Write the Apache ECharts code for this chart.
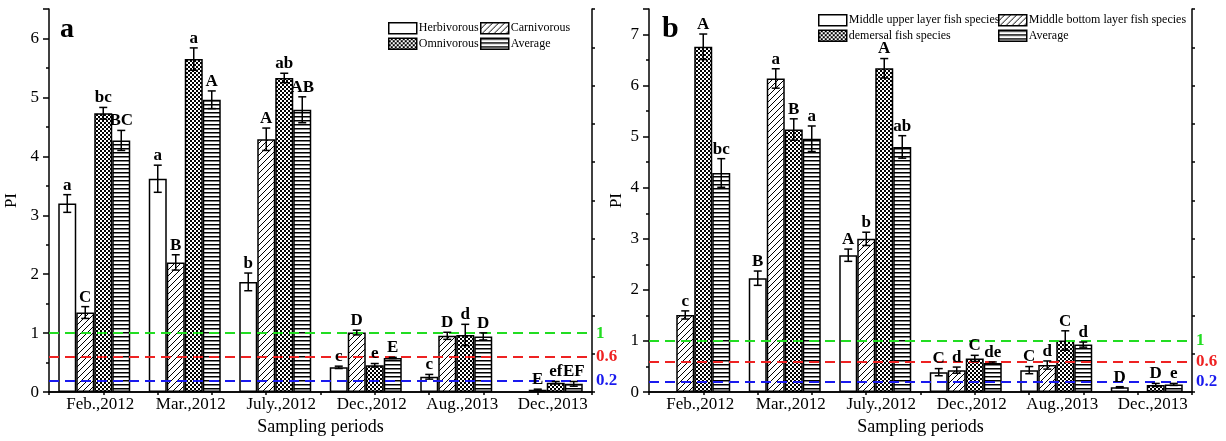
<!DOCTYPE html>
<html>
<head>
<meta charset="utf-8">
<script src="https://cdn.jsdelivr.net/npm/echarts@6/dist/echarts.min.js"></script>
<style>
html, body { margin: 0; padding: 0; background: #fff; }
#chart { width: 1226px; height: 441px; }
</style>
</head>
<body>
<div id="chart"></div>
<script>
// categorias (períodos de amostragem)
var categories = ['Feb.,2012', 'Mar.,2012', 'July.,2012', 'Dec.,2012', 'Aug.,2013', 'Dec.,2013'];

// painel a
var herbVals = [3.2, 3.62, 1.87, 0.42, 0.26, null];
var herbErr = [0.15, 0.23, 0.15, 0.02, 0.04, null];
var herbLab = ['a', 'a', 'b', 'c', 'c', ''];
var carnVals = [1.35, 2.2, 4.29, 1.01, 0.955, 0.04];
var carnErr = [0.1, 0.13, 0.19, 0.04, 0.06, 0.01];
var carnLab = ['C', 'B', 'A', 'D', 'D', 'E'];
var omniVals = [4.73, 5.65, 5.33, 0.455, 0.97, 0.16];
var omniErr = [0.1, 0.19, 0.08, 0.03, 0.18, 0.02];
var omniLab = ['bc', 'a', 'ab', 'e', 'd', 'ef'];
var avgAVals = [4.27, 4.96, 4.79, 0.58, 0.945, 0.14];
var avgAErr = [0.17, 0.15, 0.22, 0.01, 0.06, 0.04];
var avgALab = ['BC', 'A', 'AB', 'E', 'D', 'EF'];

// painel b
var upperVals = [null, 2.23, 2.68, 0.39, 0.43, 0.096];
var upperErr = [null, 0.14, 0.12, 0.07, 0.07, 0.01];
var upperLab = ['', 'B', 'A', 'C', 'C', 'D'];
var bottomVals = [1.51, 6.14, 3.0, 0.43, 0.53, null];
var bottomErr = [0.08, 0.19, 0.13, 0.06, 0.08, null];
var bottomLab = ['c', 'a', 'b', 'd', 'd', ''];
var demVals = [6.76, 5.14, 6.34, 0.66, 1.01, 0.14];
var demErr = [0.25, 0.21, 0.19, 0.06, 0.19, 0.03];
var demLab = ['A', 'B', 'A', 'C', 'C', 'D'];
var avgBVals = [4.29, 4.96, 4.80, 0.57, 0.93, 0.15];
var avgBErr = [0.28, 0.25, 0.22, 0.02, 0.05, 0.02];
var avgBLab = ['bc', 'a', 'ab', 'de', 'd', 'e'];

// linhas de referência
var refValues = [1, 0.6, 0.2];
var refLabels = ['1', '0.6', '0.2'];
var refColors = ['#22dd22', '#ee2222', '#1a1aee'];

var serif = '"Liberation Serif", "Times New Roman", serif';
var barW = 18;

// padrões de preenchimento
function hatchPattern() {
    var c = document.createElement('canvas');
    c.width = 6; c.height = 6;
    var g = c.getContext('2d');
    g.fillStyle = '#fff'; g.fillRect(0, 0, 6, 6);
    g.strokeStyle = '#000'; g.lineWidth = 1;
    g.beginPath();
    g.moveTo(0, 6); g.lineTo(6, 0);
    g.moveTo(-1, 1); g.lineTo(1, -1);
    g.moveTo(5, 7); g.lineTo(7, 5);
    g.stroke();
    return { image: c, repeat: 'repeat' };
}
function crossPattern() {
    var c = document.createElement('canvas');
    c.width = 4; c.height = 4;
    var g = c.getContext('2d');
    g.fillStyle = '#000'; g.fillRect(0, 0, 4, 4);
    g.fillStyle = '#fff';
    g.fillRect(0, 0, 2, 2); g.fillRect(2, 2, 2, 2);
    return { image: c, repeat: 'repeat' };
}
function linePattern() {
    var c = document.createElement('canvas');
    c.width = 4; c.height = 4;
    var g = c.getContext('2d');
    g.fillStyle = '#fff'; g.fillRect(0, 0, 4, 4);
    g.fillStyle = '#000'; g.fillRect(0, 0, 4, 1.5);
    return { image: c, repeat: 'repeat' };
}

var fills = ['#fff', hatchPattern(), crossPattern(), linePattern()];

function barSeries(name, vals, k, grid) {
    return {
        name: name,
        type: 'bar',
        xAxisIndex: grid * 2,
        yAxisIndex: grid * 2,
        barWidth: barW,
        barGap: '0%',
        data: vals.map(function (v) { return v == null ? '-' : v; }),
        itemStyle: { color: fills[k], borderColor: '#000', borderWidth: 1.5 },
        emphasis: { disabled: true }
    };
}

function errSeries(vals, errs, labs, k, grid) {
    return {
        type: 'custom',
        xAxisIndex: grid * 2,
        yAxisIndex: grid * 2,
        silent: true,
        z: 10,
        data: vals.map(function (v, i) { return [i, v == null ? 0 : v]; }),
        encode: { x: 0, y: 1 },
        renderItem: function (params, api) {
            var i = params.dataIndex;
            if (vals[i] == null) return;
            var v = vals[i], e = errs[i];
            var off = (k - 1.5) * barW;
            var top = api.coord([i, v + e]);
            var bot = api.coord([i, v - e]);
            var x = top[0] + off;
            var st = { stroke: '#000', lineWidth: 1.5 };
            return {
                type: 'group',
                children: [
                    { type: 'line', shape: { x1: x, y1: top[1], x2: x, y2: bot[1] }, style: st },
                    { type: 'line', shape: { x1: x - 4, y1: top[1], x2: x + 4, y2: top[1] }, style: st },
                    { type: 'line', shape: { x1: x - 4, y1: bot[1], x2: x + 4, y2: bot[1] }, style: st },
                    { type: 'text', style: { text: labs[i], x: x, y: top[1] - 1, align: 'center', verticalAlign: 'bottom', font: 'bold 17px ' + serif, fill: '#000' } }
                ]
            };
        }
    };
}

function refLines() {
    return {
        symbol: 'none',
        silent: true,
        z: 8,
        data: refValues.map(function (v, i) {
            return {
                yAxis: v,
                lineStyle: { color: refColors[i], type: [10, 6], width: 2 },
                label: { show: true, position: 'end', formatter: refLabels[i], color: refColors[i], fontWeight: 'bold', fontSize: 17, fontFamily: serif, distance: 4 }
            };
        })
    };
}

function axesFor(grid, ymax) {
    var line = { show: true, lineStyle: { color: '#000', width: 1.5 } };
    return {
        x: [
            {
                type: 'category', gridIndex: grid, data: categories, position: 'bottom',
                axisLine: line, axisTick: { show: false },
                axisLabel: { interval: 0, color: '#000', fontSize: 17, fontFamily: serif, margin: 4, padding: [0, 0, 0, 12] },
                name: 'Sampling periods', nameLocation: 'middle', nameGap: 24,
                nameTextStyle: { color: '#000', fontSize: 18, fontFamily: serif }
            },
            {
                type: 'value', gridIndex: grid, position: 'top', min: 0, max: 10, interval: 1,
                axisLine: line, axisTick: { inside: true, length: 3, lineStyle: { color: '#000', width: 1.5 } },
                axisLabel: { show: false }, splitLine: { show: false }
            }
        ],
        y: [
            {
                type: 'value', gridIndex: grid, min: 0, max: ymax, interval: 1,
                axisLine: line,
                axisTick: { length: 6, lineStyle: { color: '#000', width: 1.5 } },
                minorTick: { show: true, splitNumber: 2, length: 3, lineStyle: { color: '#000', width: 1.5 } },
                splitLine: { show: false },
                axisLabel: { color: '#000', fontSize: 17, fontFamily: serif, margin: 10, showMaxLabel: false },
                name: 'PI', nameLocation: 'middle', nameRotate: 90, nameGap: grid === 0 ? 29 : 24,
                nameTextStyle: { color: '#000', fontSize: 17, fontFamily: serif }
            },
            {
                type: 'value', gridIndex: grid, position: 'right', min: 0, max: 10, interval: 1,
                axisLine: line, axisTick: { length: 3, lineStyle: { color: '#000', width: 1.5 } },
                axisLabel: { show: false }, splitLine: { show: false }
            }
        ]
    };
}

function legendCol(left, top, names) {
    return {
        left: left, top: top, orient: 'vertical', itemWidth: 28, itemHeight: 11, itemGap: 3,
        icon: 'rect', selectedMode: false, padding: 0,
        data: names,
        itemStyle: { borderColor: '#000', borderWidth: 1.5 },
        textStyle: { color: '#000', fontSize: 12, fontFamily: serif, padding: [0, 0, 0, -3] }
    };
}

var chart = echarts.init(document.getElementById('chart'));

var axA = axesFor(0, 6.5);
var axB = axesFor(1, 7.5);

var s1 = barSeries('Herbivorous', herbVals, 0, 0);
s1.markLine = refLines();
var s5 = barSeries('Middle upper layer fish species', upperVals, 0, 1);
s5.markLine = refLines();

var options = {
    animation: false,
    backgroundColor: '#fff',
    grid: [
        { left: 49, top: 9, width: 543, height: 390 },
        { left: 649, top: 9, width: 543, height: 390 }
    ],
    xAxis: axA.x.concat(axB.x),
    yAxis: axA.y.concat(axB.y),
    legend: [
        legendCol(388, 22, ['Herbivorous', 'Omnivorous']),
        legendCol(480, 22, ['Carnivorous', 'Average']),
        legendCol(818, 14, ['Middle upper layer fish species', 'demersal fish species']),
        legendCol(998, 14, ['Middle bottom layer fish species', 'Average '])
    ],
    graphic: [
        { type: 'text', left: 60, top: 16, style: { text: 'a', font: 'bold 28px ' + serif, fill: '#000' } },
        { type: 'text', left: 662, top: 14, style: { text: 'b', font: 'bold 30px ' + serif, fill: '#000' } }
    ],
    series: [
        s1,
        barSeries('Carnivorous', carnVals, 1, 0),
        barSeries('Omnivorous', omniVals, 2, 0),
        barSeries('Average', avgAVals, 3, 0),
        errSeries(herbVals, herbErr, herbLab, 0, 0),
        errSeries(carnVals, carnErr, carnLab, 1, 0),
        errSeries(omniVals, omniErr, omniLab, 2, 0),
        errSeries(avgAVals, avgAErr, avgALab, 3, 0),
        s5,
        barSeries('Middle bottom layer fish species', bottomVals, 1, 1),
        barSeries('demersal fish species', demVals, 2, 1),
        barSeries('Average ', avgBVals, 3, 1),
        errSeries(upperVals, upperErr, upperLab, 0, 1),
        errSeries(bottomVals, bottomErr, bottomLab, 1, 1),
        errSeries(demVals, demErr, demLab, 2, 1),
        errSeries(avgBVals, avgBErr, avgBLab, 3, 1)
    ]
};

chart.setOption(options);
</script>
</body>
</html>
